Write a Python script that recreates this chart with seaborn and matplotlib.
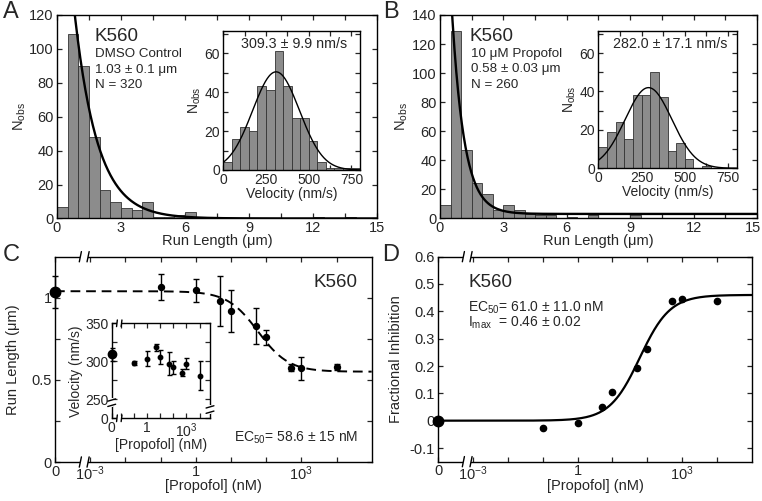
import numpy as np
import pandas as pd
import matplotlib
matplotlib.use("Agg")
import matplotlib.pyplot as plt
import matplotlib.ticker as mticker
import matplotlib.transforms as mtransforms
import seaborn as sns

# ---- values ----
# run length histograms (0.5 um bins, 0-15 um)
run_edges = np.arange(0, 15.01, 0.5)
run_counts_dmso = [7, 109, 90, 48, 17, 10, 6, 5, 10, 1, 1, 2, 4, 0, 1,
                   0, 0, 0, 0, 0, 0, 0, 0, 0, 1, 0, 0, 1, 0, 0]
run_counts_prop = [9, 129, 47, 24, 17, 6, 9, 6, 3, 2, 2, 0, 1, 0, 2,
                   0, 0, 0, 2, 0, 0, 0, 0, 0, 0, 0, 0, 0, 0, 0]

# velocity histograms (50 nm/s bins, 0-800 nm/s)
vel_edges = np.arange(0, 801, 50)
vel_counts_dmso = [4, 16, 22, 20, 43, 41, 61, 43, 27, 27, 15, 4, 1, 1, 1, 1]
vel_counts_prop = [11, 19, 24, 15, 38, 38, 50, 37, 9, 13, 5, 0, 1, 0, 0, 0]

# fit parameters (exponential run length, gaussian velocity)
exp_dmso = dict(amp=260, lam=1.08, off=0)
exp_prop = dict(amp=370, lam=0.58, off=3)
gauss_dmso = dict(amp=50.5, mu=309, sd=137)
gauss_prop = dict(amp=42, mu=290, sd=135)

# propofol titration
conc = [0, 0.1, 1, 5, 10, 50, 100, 500, 1000, 10000]
run_length = [1.035, 1.065, 1.045, 0.98, 0.92, 0.83, 0.76, 0.575, 0.57, 0.578]
run_err = [0.10, 0.08, 0.07, 0.15, 0.13, 0.11, 0.045, 0.02, 0.07, 0.02]
velocity = [309.1, 297.7, 303.2, 318.2, 305.5, 296.8, 292.3, 285, 296.8, 281]
vel_err = [9, 3, 10, 4.5, 9, 15, 8.5, 5, 7, 19]
inhibition = [0, -0.028, -0.01, 0.049, 0.106, 0.194, 0.262, 0.436, 0.446, 0.436]

rl_fit = dict(top=1.04, bottom=0.55, ec50=58.6)
inh_fit = dict(imax=0.46, ec50=61.0)

BAR = "#8c8c8c"
EDGE = "#333333"

sns.set_theme(style="ticks")
plt.rcParams["font.family"] = ["Liberation Sans", "DejaVu Sans"]
plt.rcParams.update({
    "mathtext.fontset": "custom",
    "mathtext.rm": "Liberation Sans",
    "mathtext.it": "Liberation Sans:italic",
    "mathtext.default": "regular",
    "font.size": 10.5,
    "axes.labelsize": 10.5,
    "xtick.labelsize": 10.5,
    "ytick.labelsize": 10.5,
    "axes.linewidth": 1.0,
    "axes.edgecolor": "black",
    "xtick.direction": "in",
    "ytick.direction": "in",
    "xtick.top": True,
    "ytick.right": True,
    "xtick.major.size": 3.5,
    "ytick.major.size": 3.5,
    "xtick.minor.size": 3.5,
    "ytick.minor.size": 3.5,
    "xtick.major.pad": 2,
    "ytick.major.pad": 2.5,
    "axes.labelpad": 1.5,
})

fig = plt.figure(figsize=(7.62, 5.01), dpi=100)


def run_hist(ax, counts, fit, ymax):
    df = pd.DataFrame({"x": (run_edges[:-1] + run_edges[1:]) / 2, "n": counts})
    sns.histplot(data=df, x="x", weights="n", binwidth=0.5, binrange=(0, 15), ax=ax,
                 color=BAR, edgecolor=EDGE, linewidth=0.6, alpha=1)
    xs = np.linspace(0.3, 15, 500)
    sns.lineplot(x=xs, y=fit["amp"] * np.exp(-xs / fit["lam"]) + fit["off"],
                 ax=ax, color="black", linewidth=1.7)
    ax.set_xlim(0, 15)
    ax.set_ylim(0, ymax)
    ax.xaxis.set_major_locator(mticker.MultipleLocator(3))
    ax.xaxis.set_minor_locator(mticker.MultipleLocator(1.5))
    ax.yaxis.set_major_locator(mticker.MultipleLocator(20))
    ax.set_xlabel("Run Length (\u03bcm)", labelpad=-1)
    ax.set_ylabel("N$_{obs}$", labelpad=1)


def vel_hist(ax, counts, fit, title):
    df = pd.DataFrame({"x": (vel_edges[:-1] + vel_edges[1:]) / 2, "n": counts})
    sns.histplot(data=df, x="x", weights="n", binwidth=50, binrange=(0, 800), ax=ax,
                 color=BAR, edgecolor=EDGE, linewidth=0.6, alpha=1)
    xs = np.linspace(0, 800, 300)
    sns.lineplot(x=xs, y=fit["amp"] * np.exp(-(xs - fit["mu"]) ** 2 / (2 * fit["sd"] ** 2)),
                 ax=ax, color="black", linewidth=1.0)
    ax.set_xlim(0, 800)
    ax.set_ylim(0, 71.5)
    ax.xaxis.set_major_locator(mticker.FixedLocator([0, 250, 500, 750]))
    ax.xaxis.set_minor_locator(mticker.FixedLocator([125, 375, 625]))
    ax.yaxis.set_major_locator(mticker.MultipleLocator(20))
    ax.yaxis.set_minor_locator(mticker.MultipleLocator(10))
    ax.tick_params(labelsize=10)
    ax.set_xlabel("Velocity (nm/s)", labelpad=0, fontsize=10)
    ax.set_ylabel("N$_{obs}$", labelpad=1, fontsize=10)
    ax.text(0.52, 0.905, title, transform=ax.transAxes, ha="center", va="center", fontsize=10.3)


def conc_axis(ax, left, right, labels):
    ax.set_xscale("log")
    ax.set_xlim(left, right)
    ticks = [left] + [10.0 ** k for k in range(int(np.ceil(np.log10(left) + 0.5)), 5)]
    ax.xaxis.set_major_locator(mticker.FixedLocator(ticks))
    names = [labels.get(i, "") for i in range(len(ticks))]
    ax.xaxis.set_major_formatter(mticker.FixedFormatter(names))
    ax.xaxis.set_minor_locator(mticker.NullLocator())


def x_break(ax, xs, h=0.025, gap_lw=3):
    tr = ax.get_xaxis_transform()
    for y in (0, 1):
        ax.plot([xs[0], xs[1]], [y, y], transform=tr, color="white", lw=gap_lw,
                clip_on=False, zorder=6, solid_capstyle="butt")
        for xb in xs:
            ax.plot([xb / 10 ** 0.03, xb * 10 ** 0.03], [y - h, y + h], transform=tr,
                    color="black", lw=1.0, clip_on=False, zorder=7)


def plot_points(ax, x0, ys, errs, ms, ms0, cap):
    xs = [x0 if c == 0 else c for c in conc]
    ax.errorbar(xs[1:], ys[1:], yerr=None if errs is None else errs[1:], fmt="o",
                color="black", ms=ms, capsize=cap, elinewidth=1, capthick=1,
                clip_on=False, zorder=5)
    ax.errorbar(xs[:1], ys[:1], yerr=None if errs is None else errs[:1], fmt="o",
                color="black", ms=ms0, capsize=cap, elinewidth=1, capthick=1,
                clip_on=False, zorder=5)


# ---------------- A ----------------
axA = fig.add_axes([0.0748, 0.5639, 0.4199, 0.4062])
run_hist(axA, run_counts_dmso, exp_dmso, 120)
axA.text(0.117, 0.892, "K560", transform=axA.transAxes, fontsize=13.5, va="center")
for yy, s in zip([0.808, 0.732, 0.656], ["DMSO Control", "1.03 \u00b1 0.1 \u03bcm", "N = 320"]):
    axA.text(0.12, yy, s, transform=axA.transAxes, fontsize=9.6, va="center")

axAi = fig.add_axes([0.2930, 0.6607, 0.1794, 0.2774])
vel_hist(axAi, vel_counts_dmso, gauss_dmso, "309.3 \u00b1 9.9 nm/s")

# ---------------- B ----------------
axB = fig.add_axes([0.5774, 0.5643, 0.4160, 0.4058])
run_hist(axB, run_counts_prop, exp_prop, 140)
axB.text(0.094, 0.892, "K560", transform=axB.transAxes, fontsize=13.5, va="center")
for yy, s in zip([0.808, 0.732, 0.656], ["10 \u03bcM Propofol", "0.58 \u00b1 0.03 \u03bcm", "N = 260"]):
    axB.text(0.097, yy, s, transform=axB.transAxes, fontsize=9.6, va="center")

axBi = fig.add_axes([0.7852, 0.6641, 0.1816, 0.2741])
vel_hist(axBi, vel_counts_prop, gauss_prop, "282.0 \u00b1 17.1 nm/s")

# ---------------- C ----------------
axC = fig.add_axes([0.0722, 0.0778, 0.4156, 0.4098])
conc_axis(axC, 1e-4, 1e5, {0: "0", 1: "10$^{-3}$", 4: "1", 7: "10$^{3}$"})
xs = np.logspace(-4, 5, 400)
sns.lineplot(x=xs, y=rl_fit["bottom"] + (rl_fit["top"] - rl_fit["bottom"]) / (1 + xs / rl_fit["ec50"]),
             ax=axC, color="black", linewidth=1.4, linestyle=(0, (5, 3)))
plot_points(axC, 1e-4, run_length, run_err, 4.3, 7.5, 2.5)
axC.set_ylim(0, 1.25)
axC.yaxis.set_major_locator(mticker.FixedLocator([0, 0.5, 1]))
axC.yaxis.set_major_formatter(mticker.FixedFormatter(["0", "0.5", "1"]))
axC.yaxis.set_minor_locator(mticker.FixedLocator([0.25, 0.75]))
axC.set_xlabel("[Propofol] (nM)", labelpad=-3)
axC.set_ylabel("Run Length (\u03bcm)", labelpad=8)
x_break(axC, [10 ** -3.28, 10 ** -3.06])
axC.text(0.816, 0.872, "K560", transform=axC.transAxes, fontsize=13.5, va="center")
axC.text(0.566, 0.119, "EC$_{50}$= 58.6 \u00b1 15 nM", transform=axC.transAxes, fontsize=10, va="center")

axCi = fig.add_axes([0.1466, 0.1651, 0.1290, 0.1896])
conc_axis(axCi, 10 ** -2.7, 10 ** 4.8, {0: "0", 3: "1", 6: "10$^{3}$"})
plot_points(axCi, 10 ** -2.7, velocity, vel_err, 3.2, 6, 1.8)
axCi.set_ylim(225, 350)
axCi.yaxis.set_major_locator(mticker.FixedLocator([225, 250, 300, 350]))
axCi.yaxis.set_major_formatter(mticker.FixedFormatter(["0", "250", "300", "350"]))
axCi.yaxis.set_minor_locator(mticker.FixedLocator([275, 325]))
axCi.tick_params(labelsize=10)
axCi.set_xlabel("[Propofol] (nM)", labelpad=-1, fontsize=10)
axCi.set_ylabel("Velocity (nm/s)", labelpad=1, fontsize=10)
x_break(axCi, [10 ** -2.3, 10 ** -1.95], h=0.035)
trY = axCi.get_yaxis_transform()
for xa, ys_ in ((0, [249, 242]), (1, [240, 233])):
    axCi.plot([xa, xa], ys_, transform=trY, color="white", lw=3, clip_on=False, zorder=6)
    for yb in ys_:
        axCi.plot([xa - 0.04, xa + 0.04], [yb - 1.5, yb + 1.5], transform=trY,
                  color="black", lw=1.0, clip_on=False, zorder=7)

# ---------------- D ----------------
axD = fig.add_axes([0.5752, 0.0785, 0.4113, 0.4092])
conc_axis(axD, 1e-4, 1e5, {0: "0", 1: "10$^{-3}$", 4: "1", 7: "10$^{3}$"})
sns.lineplot(x=xs, y=inh_fit["imax"] * xs / (xs + inh_fit["ec50"]), ax=axD,
             color="black", linewidth=1.6)
plot_points(axD, 1e-4, inhibition, None, 4.5, 7.5, 0)
axD.set_ylim(-0.15, 0.6)
dticks = [-0.1, 0, 0.1, 0.2, 0.3, 0.4, 0.5, 0.6]
axD.yaxis.set_major_locator(mticker.FixedLocator(dticks))
axD.yaxis.set_major_formatter(mticker.FixedFormatter(["-0.1", "0", "0.1", "0.2", "0.3", "0.4", "0.5", "0.6"]))
axD.set_xlabel("[Propofol] (nM)", labelpad=-3)
axD.set_ylabel("Fractional Inhibition", labelpad=5)
x_break(axD, [10 ** -3.28, 10 ** -3.06])
axD.text(0.096, 0.874, "K560", transform=axD.transAxes, fontsize=13.5, va="center")
axD.text(0.096, 0.752, "EC$_{50}$= 61.0 \u00b1 11.0 nM", transform=axD.transAxes, fontsize=10, va="center")
axD.text(0.096, 0.676, "I$_{max}$  = 0.46 \u00b1 0.02", transform=axD.transAxes, fontsize=10, va="center")

for ax in (axA, axAi, axB, axBi, axC, axCi, axD):
    for sp in ax.spines.values():
        sp.set_visible(True)
        sp.set_linewidth(1.0)
    ax.tick_params(which="both", direction="in", top=True, right=True, width=0.9)

# panel letters
for letter, (px, py) in zip("ABCD", [(11, 12), (391, 12), (11, 255), (391, 255)]):
    fig.text(px / 762, 1 - py / 501, letter, fontsize=17, ha="center", va="center")

# nudge the last run-length tick label of B inside the canvas
fig.canvas.draw()
shift = mtransforms.ScaledTranslation(-4 / 100, 0, fig.dpi_scale_trans)
for lbl in axB.get_xticklabels():
    if lbl.get_text() == "15":
        lbl.set_transform(lbl.get_transform() + shift)

fig.savefig("out.png", dpi=100)
